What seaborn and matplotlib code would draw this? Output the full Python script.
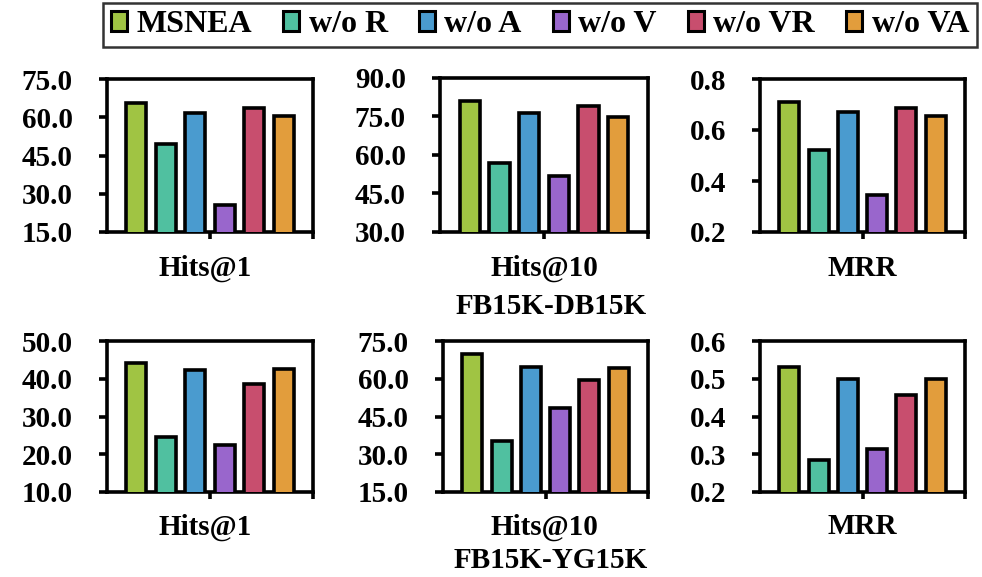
import matplotlib
matplotlib.use("Agg")
import matplotlib.pyplot as plt
from matplotlib.patches import Patch
import seaborn as sns
import pandas as pd

variants = ["MSNEA", "w/o R", "w/o A", "w/o V", "w/o VR", "w/o VA"]
colors = ["#A0C443", "#50C0A0", "#4A9BCF", "#9966CC", "#C84E6E", "#E29D3C"]
metrics = ["Hits@1", "Hits@10", "MRR"]
datasets = ["FB15K-DB15K", "FB15K-YG15K"]

fbdb_hits1 = [65.4, 49.4, 61.6, 25.4, 63.5, 60.5]
fbdb_hits10 = [80.9, 56.8, 76.5, 51.8, 79.1, 74.8]
fbdb_mrr = [0.710, 0.521, 0.669, 0.344, 0.687, 0.656]
fbyg_hits1 = [44.2, 24.7, 42.4, 22.4, 38.6, 42.5]
fbyg_hits10 = [69.7, 35.4, 64.7, 48.2, 59.4, 64.2]
fbyg_mrr = [0.531, 0.285, 0.500, 0.313, 0.458, 0.500]

ylims = [[(15, 75, 15), (30, 90, 15), (0.2, 0.8, 0.2)],
         [(10, 50, 10), (15, 75, 15), (0.2, 0.6, 0.1)]]

values = [[fbdb_hits1, fbdb_hits10, fbdb_mrr], [fbyg_hits1, fbyg_hits10, fbyg_mrr]]

plt.rcParams["font.family"] = ["Liberation Serif", "DejaVu Serif"]
plt.rcParams["font.weight"] = "bold"

W, H = 982, 577
fig = plt.figure(figsize=(W / 100, H / 100), dpi=100)

# pixel boxes (left, right, top, bottom)
boxes = [[(107, 313, 79, 232), (440, 648, 78, 232), (760, 965, 79, 232)],
         [(107, 313, 341, 492), (443, 648, 341, 492), (760, 965, 341, 492)]]
label_x = [205, 544, 862]

for r in range(2):
    for c in range(3):
        l, rt, t, b = boxes[r][c]
        ax = fig.add_axes([l / W, 1 - b / H, (rt - l) / W, (b - t) / H])
        df = pd.DataFrame({"variant": variants, "value": values[r][c]})
        sns.barplot(data=df, x="variant", y="value", hue="variant",
                    palette=colors, order=variants, hue_order=variants,
                    width=0.68, edgecolor="black", linewidth=2.6,
                    saturation=1, legend=False, ax=ax, zorder=3)
        lo, hi, step = ylims[r][c]
        ax.set_ylim(lo, hi)
        n = int(round((hi - lo) / step))
        ticks = [lo + i * step for i in range(n + 1)]
        ax.set_yticks(ticks)
        ax.set_yticklabels(["{:.1f}".format(v) for v in ticks])
        ax.set_xlim(-1.0, 6.0)
        ax.set_xticks([2.5, 6.0])
        ax.set_xticklabels([])
        ax.set_xlabel("")
        ax.set_ylabel("")
        for sp in ax.spines.values():
            sp.set_linewidth(2.6)
            sp.set_color("black")
        ax.tick_params(axis="y", direction="out", length=5.5, width=2.6,
                       labelsize=21, pad=19)
        ax.tick_params(axis="x", direction="out", length=5, width=2.6)
        for lab in ax.get_yticklabels():
            lab.set_fontweight("bold")
        ax.set_facecolor("white")
        ly = 268 if r == 0 else 527
        fig.text(label_x[c] / W, 1 - ly / H, metrics[c], ha="center",
                 va="center", fontsize=21, fontweight="bold")

fig.text(551 / W, 1 - 307 / H, datasets[0], ha="center", va="center",
         fontsize=21, fontweight="bold")
fig.text(551 / W, 1 - 561 / H, datasets[1], ha="center", va="center",
         fontsize=21, fontweight="bold")

handles = [Patch(facecolor=col, edgecolor="black", linewidth=2.2, label=v)
           for v, col in zip(variants, colors)]
leg = fig.legend(handles=handles, loc="center", ncol=6,
                 bbox_to_anchor=(540 / W, 1 - 25 / H),
                 prop={"size": 23, "weight": "bold"},
                 frameon=True, fancybox=False, handlelength=0.5,
                 handleheight=0.6, handletextpad=0.3, columnspacing=0.97,
                 borderpad=0.25)
leg.get_frame().set_edgecolor("black")
leg.get_frame().set_linewidth(1.8)

fig.savefig("out.png", dpi=100, facecolor="white")
